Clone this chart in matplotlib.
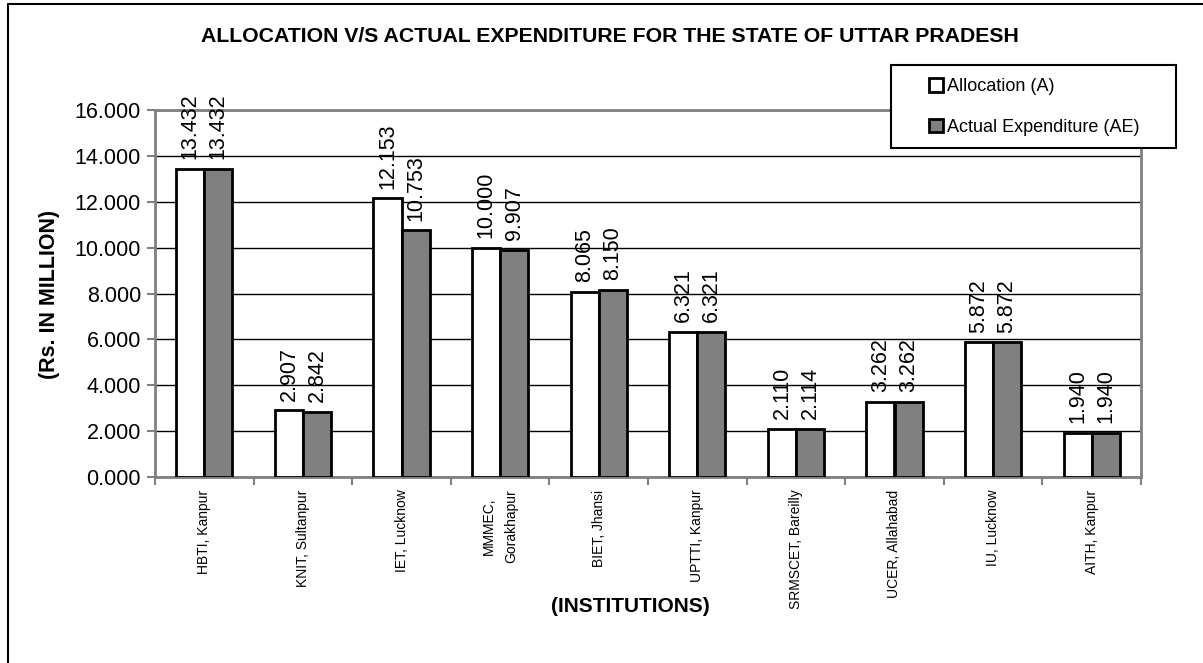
import numpy as np
import matplotlib.pyplot as plt
from matplotlib.lines import Line2D
from matplotlib.patches import Rectangle

plt.rcParams['font.family'] = ['Liberation Sans', 'DejaVu Sans']

institutions = ["HBTI, Kanpur", "KNIT, Sultanpur", "IET, Lucknow", "MMMEC,\nGorakhapur",
                "BIET, Jhansi", "UPTTI, Kanpur", "SRMSCET, Bareilly", "UCER, Allahabad",
                "IU, Lucknow", "AITH, Kanpur"]
allocation = [13.432, 2.907, 12.153, 10.000, 8.065, 6.321, 2.110, 3.262, 5.872, 1.940]
expenditure = [13.432, 2.842, 10.753, 9.907, 8.150, 6.321, 2.114, 3.262, 5.872, 1.940]
series_names = ["Allocation (A)", "Actual Expenditure (AE)"]

W, H = 1203, 663
fig = plt.figure(figsize=(W / 100, H / 100), dpi=100)
ax = fig.add_axes([155 / W, 1 - 477 / H, (1141 - 155) / W, (477 - 110) / H])

x = np.arange(len(institutions))
bw = 0.284
ax.bar(x - bw / 2, allocation, bw, color="white", edgecolor="black", linewidth=2,
       label=series_names[0], zorder=3)
ax.bar(x + bw / 2, expenditure, bw, color="#808080", edgecolor="black", linewidth=2,
       label=series_names[1], zorder=3)

for xs, vals in ((x - bw / 2, allocation), (x + bw / 2, expenditure)):
    for xi, v in zip(xs, vals):
        ax.annotate("%.3f" % v, (xi, v), xytext=(0, 7), textcoords="offset points",
                    rotation=90, ha="center", va="bottom", fontsize=15.5)

ax.set_xlim(-0.5, len(institutions) - 0.5)
ax.set_ylim(0, 16)
ax.set_yticks(np.arange(0, 17, 2))
ax.set_yticklabels(["%.3f" % t for t in np.arange(0, 17, 2)], fontsize=15.5)
ax.yaxis.grid(True, color="black", linewidth=1)
ax.set_axisbelow(True)

ax.set_xticks(x)
ax.set_xticklabels(institutions, rotation=90, fontsize=10, va="top", ha="center",
                   multialignment="center", linespacing=1.7)
ax.set_xticks(np.arange(-0.5, len(institutions)), minor=True)
ax.tick_params(axis="x", which="major", length=0, pad=9)
ax.tick_params(axis="x", which="minor", length=6, color="#808080", width=1.5, direction="out")
ax.tick_params(axis="y", length=6, color="#808080", width=1.5, direction="out", pad=4)

for s in ax.spines.values():
    s.set_color("#808080")
    s.set_linewidth(2)

fig.text(610 / W, 1 - 36 / H, "ALLOCATION V/S ACTUAL EXPENDITURE FOR THE STATE OF UTTAR PRADESH",
         ha="center", va="center", fontsize=15.3, fontweight="bold")
fig.text(50 / W, 1 - 294 / H, "(Rs. IN MILLION)", rotation=90, ha="center", va="center",
         fontsize=15.5, fontweight="bold")
fig.text(630 / W, 1 - 607 / H, "(INSTITUTIONS)", ha="center", va="center",
         fontsize=15, fontweight="bold")

# outer chart border (only top and left visible in the crop)
fig.add_artist(Line2D([8 / W, 8 / W, 1], [0, 1 - 4 / H, 1 - 4 / H], color="black", linewidth=1.5,
                      transform=fig.transFigure))

# legend box drawn separately, entries placed inside it
fig.add_artist(Rectangle((891 / W, 1 - 148 / H), (1176 - 891) / W, (148 - 65) / H,
                         transform=fig.transFigure, facecolor="white", edgecolor="black",
                         linewidth=1.5, zorder=4))
leg = ax.legend(loc="upper left", bbox_to_anchor=(929 / W, 1 - 78 / H),
                bbox_transform=fig.transFigure, fontsize=13, frameon=False,
                borderaxespad=0, borderpad=0, handlelength=0.8, handleheight=0.8,
                handletextpad=0.2, labelspacing=1.3)
leg.set_zorder(5)
fig.add_artist(leg)

fig.savefig("out.png", dpi=100)
